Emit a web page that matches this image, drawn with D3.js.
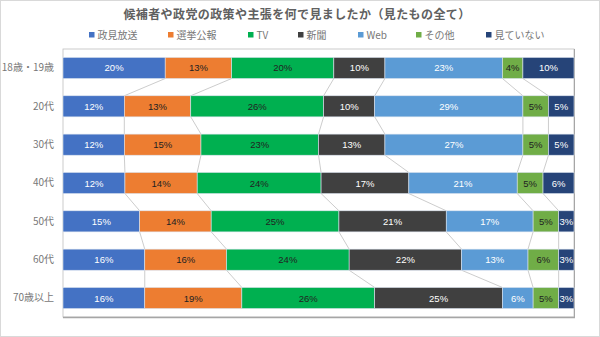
<!DOCTYPE html>
<html><head><meta charset="utf-8">
<script src="https://cdn.jsdelivr.net/npm/d3@7"></script>
<style>body{margin:0;background:#fff}svg{display:block;font-family:"Noto Sans CJK JP","Noto Sans",sans-serif}</style>
</head><body><svg id="c" width="600" height="337"></svg>
<script>
const categories = ["18歳・19歳","20代","30代","40代","50代","60代","70歳以上"];
const seriesNames = ["政見放送","選挙公報","TV","新聞","Web","その他","見ていない"];
const v政見放送 = [20,12,12,12,15,16,16];
const v選挙公報 = [13,13,15,14,14,16,19];
const vTV = [20,26,23,24,25,24,26];
const v新聞 = [10,10,13,17,21,22,25];
const vWeb = [23,29,27,21,17,13,6];
const vその他 = [4,5,5,5,5,6,5];
const v見ていない = [10,5,5,6,3,3,3];
const seriesValues = [v政見放送,v選挙公報,vTV,v新聞,vWeb,vその他,v見ていない];
const colors = ["#4472C4","#ED7D31","#00B050","#404040","#5B9BD5","#70AD47","#264478"];
const labelColors = ["#fff","#222","#222","#fff","#fff","#222","#fff"];

const svg = d3.select("#c");
svg.append("rect").attr("x",0.5).attr("y",0.5).attr("width",599).attr("height",336).attr("fill","#fff").attr("stroke","#d9d9d9");

svg.append("text").attr("x",297).attr("y",18.5).attr("text-anchor","middle")
  .attr("font-size",12).attr("letter-spacing",0.4).attr("font-weight","bold").attr("fill","#606060")
  .text("候補者や政党の政策や主張を何で見ましたか（見たもの全て）");

const legX = [89,168,248,298,358,416,486];
const leg = svg.append("g");
seriesNames.forEach((n,i)=>{
  leg.append("rect").attr("x",legX[i]).attr("y",32).attr("width",5.5).attr("height",5.5).attr("fill",colors[i]);
  leg.append("text").attr("x",legX[i]+8.5).attr("y",38.5).attr("font-size",10).attr("fill","#777").text(n);
});

const L=63,R=574,T=49,B=317;
const data = categories.map((c,i)=>{const o={cat:c}; seriesNames.forEach((s,j)=>o[s]=seriesValues[j][i]); return o;});
const stack = d3.stack().keys(seriesNames).offset(d3.stackOffsetExpand)(data);
const x = d3.scaleLinear().domain([0,1]).range([L,R]);
const y = d3.scaleBand().domain(categories).range([T,B]).paddingInner(0.45).paddingOuter(0.22);

// plot frame
svg.append("rect").attr("x",L).attr("y",T).attr("width",R-L).attr("height",B-T).attr("fill","none").attr("stroke","#bfbfbf").attr("stroke-width",0.8);
svg.append("line").attr("x1",L).attr("x2",R+1).attr("y1",B+0.5).attr("y2",B+0.5).attr("stroke","#a6a6a6").attr("stroke-width",1.5);
svg.append("line").attr("x1",R+0.5).attr("x2",R+0.5).attr("y1",T).attr("y2",B).attr("stroke","#a6a6a6").attr("stroke-width",1);

// series lines
const sl = svg.append("g").attr("stroke","#bfbfbf").attr("stroke-width",0.8).attr("fill","none");
stack.forEach((s,j)=>{
  if(j===stack.length-1) return;
  for(let i=0;i<categories.length-1;i++){
    sl.append("line").attr("x1",x(s[i][1])).attr("y1",y(categories[i])+y.bandwidth())
      .attr("x2",x(s[i+1][1])).attr("y2",y(categories[i+1]));
  }
});

stack.forEach((s,j)=>{
  const g = svg.append("g");
  g.selectAll("rect").data(s).join("rect")
    .attr("x",d=>x(d[0])).attr("y",d=>y(d.data.cat)).attr("width",d=>x(d[1])-x(d[0])).attr("height",y.bandwidth())
    .attr("fill",colors[j]).attr("stroke","#dbe3ef").attr("stroke-width",0.6);
  g.selectAll("text").data(s).join("text")
    .attr("x",d=>(x(d[0])+x(d[1]))/2).attr("y",d=>y(d.data.cat)+y.bandwidth()/2+3.5)
    .attr("text-anchor","middle").attr("font-size",9.5).attr("fill",labelColors[j])
    .attr("font-family","Liberation Sans, Arial, sans-serif")
    .text(d=>d.data[seriesNames[j]]+"%");
});

const yAxis = svg.append("g").attr("transform",`translate(${L},0)`).call(d3.axisLeft(y).tickSize(0).tickPadding(9));
yAxis.select(".domain").remove();
yAxis.selectAll("text").attr("font-size",10).attr("fill","#777").attr("font-family","'Noto Sans CJK JP',sans-serif");
</script></body></html>
